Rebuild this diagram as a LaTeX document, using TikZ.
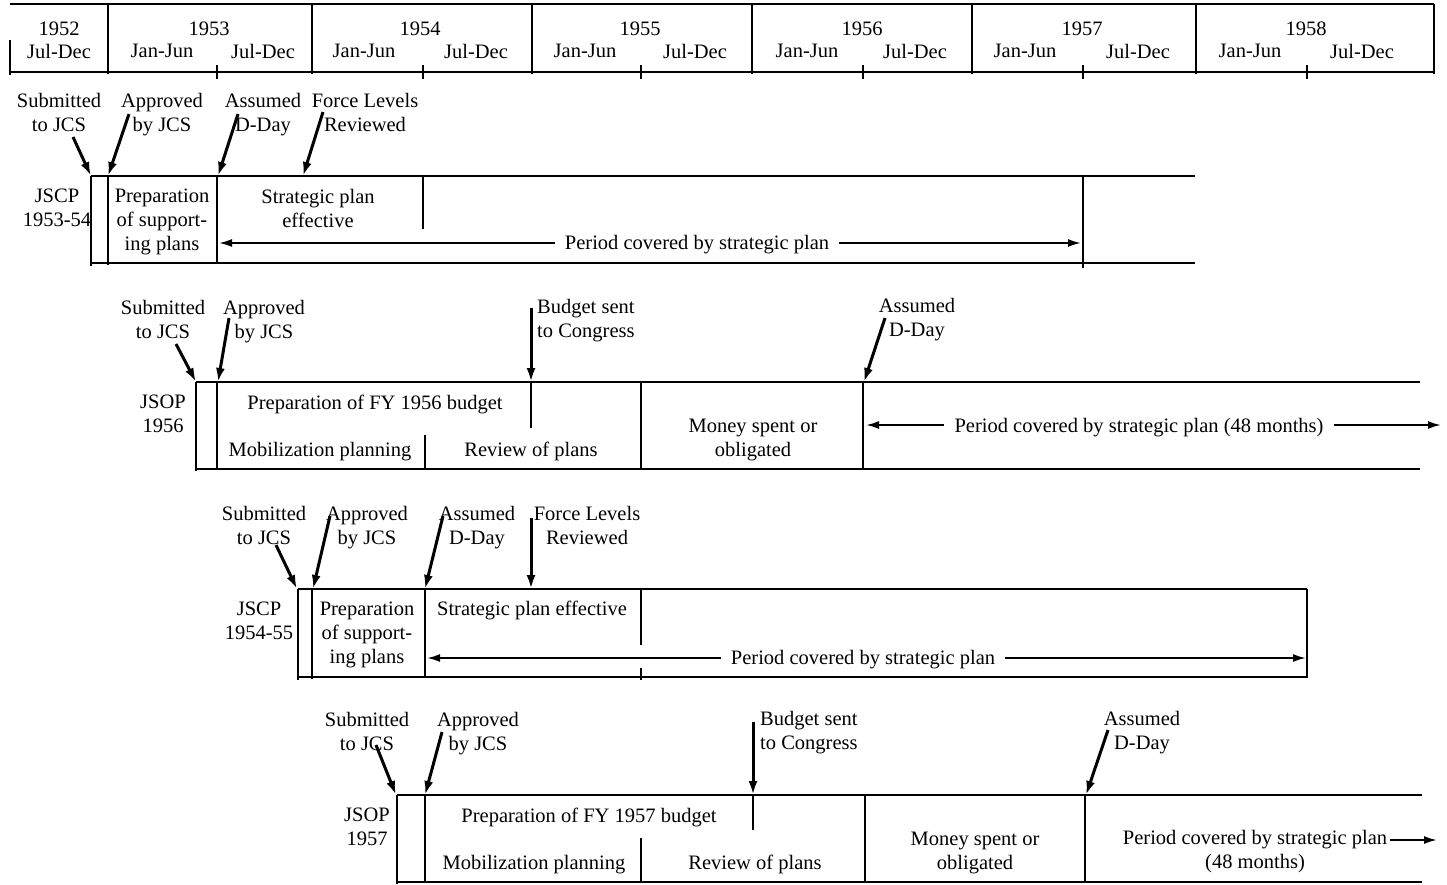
\documentclass[tikz,border=0pt]{standalone}
\usepackage{fontspec}
\setmainfont{Liberation Serif}
\usetikzlibrary{arrows.meta}
\begin{document}
\begin{tikzpicture}[x=1pt,y=-1pt,
  ln/.style={line width=1.8pt},
  vt/.style={line width=2.6pt},
  arr/.style={line width=3pt,-{Latex[length=14pt,width=9pt]}},
  dbl/.style={line width=2pt,-{Latex[length=13pt,width=8pt]}},
  lbl/.style={align=center,inner sep=0pt,font=\fontsize{20.5}{24}\selectfont},
  per/.style={lbl,inner xsep=10pt}]
\useasboundingbox (0,0) rectangle (1447,884);

% ---------------- time scale ----------------
\draw[ln] (10,4) -- (1434,4);
\draw[ln] (10,72) -- (1434,72);
\draw[vt] (10,40) -- (10,75);
\draw[vt] (1434,4) -- (1434,74);
\foreach \x in {108,312,532,752,972,1196} \draw[vt] (\x,4) -- (\x,74);
\foreach \x in {217,423,641,863,1083,1307} \draw[vt] (\x,65) -- (\x,79);
\node[lbl] (y52) at (59,29) {1952};
\node[lbl] (h52b) at (59,51) {Jul-Dec};
\node[lbl] (y53) at (209,29) {1953};
\node[lbl] (h53a) at (162,51) {Jan-Jun};
\node[lbl] (h53b) at (263,51) {Jul-Dec};
\node[lbl] (y54) at (420,29) {1954};
\node[lbl] (h54a) at (364,51) {Jan-Jun};
\node[lbl] (h54b) at (476,51) {Jul-Dec};
\node[lbl] (y55) at (640,29) {1955};
\node[lbl] (h55a) at (585,51) {Jan-Jun};
\node[lbl] (h55b) at (695,51) {Jul-Dec};
\node[lbl] (y56) at (862,29) {1956};
\node[lbl] (h56a) at (807,51) {Jan-Jun};
\node[lbl] (h56b) at (915,51) {Jul-Dec};
\node[lbl] (y57) at (1082,29) {1957};
\node[lbl] (h57a) at (1025,51) {Jan-Jun};
\node[lbl] (h57b) at (1138,51) {Jul-Dec};
\node[lbl] (y58) at (1306,29) {1958};
\node[lbl] (h58a) at (1250,51) {Jan-Jun};
\node[lbl] (h58b) at (1362,51) {Jul-Dec};

% ---------------- row 1 : JSCP 1953-54 ----------------
\draw[ln] (91,176) -- (1195,176);
\draw[ln] (91,263) -- (1195,263);
\draw[vt] (91,176) -- (91,266);
\draw[ln] (108,176) -- (108,265);
\draw[vt] (217,176) -- (217,263);
\draw[vt] (423,176) -- (423,229);
\draw[vt] (1083,176) -- (1083,268);
\node[lbl] (s1) at (59,112) {Submitted\\to JCS};
\node[lbl] (a1) at (162,115) {Approved\\by JCS};
\node[lbl] (d1) at (263,115) {Assumed\\D-Day};
\node[lbl] (f1) at (365,112) {Force Levels\\Reviewed};
\node[lbl] (n1) at (57,208) {JSCP\\1953-54};
\node[lbl] (pp1) at (162,222) {Preparation\\of support-\\ing plans};
\node[lbl] (sp1) at (318,208) {Strategic plan\\effective};
\node[per] (pc1) at (697,245) {Period covered by strategic plan};
\coordinate (s1a) at (73,137); \coordinate (s1b) at (91,176);
\coordinate (a1a) at (129,114); \coordinate (a1b) at (108,176);
\coordinate (d1a) at (238,114); \coordinate (d1b) at (218,176);
\coordinate (f1a) at (323,112); \coordinate (f1b) at (303,176);
\draw[arr] (s1a) -- (s1b);
\draw[arr] (a1a) -- (a1b);
\draw[arr] (d1a) -- (d1b);
\draw[arr] (f1a) -- (f1b);
\coordinate (l1) at (219,243); \coordinate (r1) at (1081,243);
\draw[dbl] (pc1.west|-l1) -- (l1);
\draw[dbl] (pc1.east|-r1) -- (r1);

% ---------------- row 2 : JSOP 1956 ----------------
\draw[ln] (196,382) -- (1420,382);
\draw[ln] (196,469) -- (1420,469);
\draw[vt] (196,382) -- (196,471);
\draw[vt] (217,382) -- (217,470);
\draw[vt] (425,435) -- (425,469);
\draw[vt] (531,382) -- (531,428);
\draw[vt] (641,382) -- (641,470);
\draw[vt] (863,382) -- (863,470);
\node[lbl] (s2) at (163,319) {Submitted\\to JCS};
\node[lbl] (a2) at (264,322) {Approved\\by JCS};
\node[lbl,align=left,anchor=west] (b2) at (537,321) {Budget sent\\to Congress};
\node[lbl] (d2) at (917,320) {Assumed\\D-Day};
\node[lbl] (n2) at (163,414) {JSOP\\1956};
\node[lbl] (prep2) at (375,404) {Preparation of FY 1956 budget};
\node[lbl] (mob2) at (320,452) {Mobilization planning};
\node[lbl] (rev2) at (531,451) {Review of plans};
\node[lbl] (mon2) at (753,440) {Money spent or\\obligated};
\node[per] (pc2) at (1139,428) {Period covered by strategic plan (48 months)};
\coordinate (s2a) at (176,344); \coordinate (s2b) at (196,382);
\coordinate (a2a) at (229,318); \coordinate (a2b) at (218,382);
\coordinate (b2a) at (531,308); \coordinate (b2b) at (531,382);
\coordinate (d2a) at (885,318); \coordinate (d2b) at (864,382);
\draw[arr] (s2a) -- (s2b);
\draw[arr] (a2a) -- (a2b);
\draw[arr] (b2a) -- (b2b);
\draw[arr] (d2a) -- (d2b);
\coordinate (l2) at (866,425); \coordinate (r2) at (1441,425);
\draw[dbl] (pc2.west|-l2) -- (l2);
\draw[dbl] (pc2.east|-r2) -- (r2);

% ---------------- row 3 : JSCP 1954-55 ----------------
\draw[ln] (298,589) -- (1307,589);
\draw[ln] (298,677) -- (1307,677);
\draw[vt] (298,589) -- (298,680);
\draw[ln] (312,589) -- (312,679);
\draw[vt] (425,589) -- (425,677);
\draw[vt] (641,589) -- (641,645);
\draw[vt] (641,668) -- (641,680);
\draw[ln] (1307,589) -- (1307,678);
\node[lbl] (s3) at (264,525) {Submitted\\to JCS};
\node[lbl] (a3) at (367,528) {Approved\\by JCS};
\node[lbl] (d3) at (477,528) {Assumed\\D-Day};
\node[lbl] (f3) at (587,525) {Force Levels\\Reviewed};
\node[lbl] (n3) at (259,621) {JSCP\\1954-55};
\node[lbl] (pp3) at (367,635) {Preparation\\of support-\\ing plans};
\node[lbl] (sp3) at (532,610) {Strategic plan effective};
\node[per] (pc3) at (863,660) {Period covered by strategic plan};
\coordinate (s3a) at (276,545); \coordinate (s3b) at (297,589);
\coordinate (a3a) at (330,516); \coordinate (a3b) at (313,589);
\coordinate (d3a) at (443,516); \coordinate (d3b) at (425,589);
\coordinate (f3a) at (531,518); \coordinate (f3b) at (531,589);
\draw[arr] (s3a) -- (s3b);
\draw[arr] (a3a) -- (a3b);
\draw[arr] (d3a) -- (d3b);
\draw[arr] (f3a) -- (f3b);
\coordinate (l3) at (427,658); \coordinate (r3) at (1306,658);
\draw[dbl] (pc3.west|-l3) -- (l3);
\draw[dbl] (pc3.east|-r3) -- (r3);

% ---------------- row 4 : JSOP 1957 ----------------
\draw[ln] (397,795) -- (1422,795);
\draw[ln] (397,882) -- (1422,882);
\draw[vt] (397,795) -- (397,884);
\draw[vt] (425,795) -- (425,883);
\draw[vt] (641,838) -- (641,882);
\draw[vt] (753,795) -- (753,830);
\draw[vt] (865,795) -- (865,883);
\draw[vt] (1085,795) -- (1085,883);
\node[lbl] (s4) at (367,731) {Submitted\\to JCS};
\node[lbl] (a4) at (478,734) {Approved\\by JCS};
\node[lbl,align=left,anchor=west] (b4) at (760,733) {Budget sent\\to Congress};
\node[lbl] (d4) at (1142,733) {Assumed\\D-Day};
\node[lbl] (n4) at (367,827) {JSOP\\1957};
\node[lbl] (prep4) at (589,817) {Preparation of FY 1957 budget};
\node[lbl] (mob4) at (534,865) {Mobilization planning};
\node[lbl] (rev4) at (755,864) {Review of plans};
\node[lbl] (mon4) at (975,853) {Money spent or\\obligated};
\node[lbl] (pc4) at (1255,840) {Period covered by strategic plan};
\node[lbl] (m4) at (1255,864) {(48 months)};
\coordinate (s4a) at (376,745); \coordinate (s4b) at (396,795);
\coordinate (a4a) at (442,732); \coordinate (a4b) at (425,795);
\coordinate (b4a) at (753,722); \coordinate (b4b) at (753,795);
\coordinate (d4a) at (1108,730); \coordinate (d4b) at (1086,795);
\draw[arr] (s4a) -- (s4b);
\draw[arr] (a4a) -- (a4b);
\draw[arr] (b4a) -- (b4b);
\draw[arr] (d4a) -- (d4b);
\coordinate (r4) at (1437,840);
\draw[dbl] ([xshift=3pt]pc4.east|-r4) -- (r4);
\end{tikzpicture}
\end{document}
